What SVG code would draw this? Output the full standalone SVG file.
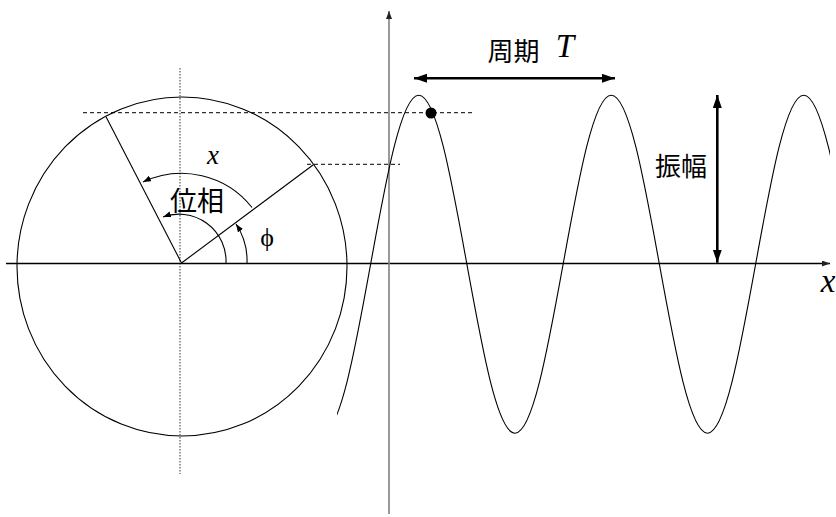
<svg xmlns="http://www.w3.org/2000/svg" width="836" height="517" viewBox="0 0 836 517">
  <style>
    .ln { fill: none; stroke: #000; stroke-width: 1.3; }
    .thin { fill: none; stroke: #000; stroke-width: 1.1; }
    .dash { fill: none; stroke: #000; stroke-width: 1; stroke-dasharray: 4 3; }
    .dot { fill: none; stroke: #555; stroke-width: 1.2; stroke-dasharray: 1.5 1.5; }
    .thick { fill: none; stroke: #000; stroke-width: 2.6; }
    .jp { font-family: "Noto Sans CJK JP", "Noto Sans", sans-serif; fill: #000; }
    .it { font-family: "Liberation Serif", "DejaVu Serif", serif; font-style: italic; fill: #000; }
    .gr { font-family: "Liberation Serif", "DejaVu Serif", serif; fill: #000; }
  </style>
  <defs>
    <marker id="arrS" markerUnits="userSpaceOnUse" markerWidth="9" markerHeight="7" refX="8" refY="3" orient="auto">
      <path d="M0,0 L8,3 L0,6 z" fill="#000"/>
    </marker>
    <marker id="arrAx" markerUnits="userSpaceOnUse" markerWidth="9" markerHeight="7" refX="8" refY="3" orient="auto">
      <path d="M0,0 L8,3 L0,6 z" fill="#222"/>
    </marker>
    <marker id="arrL" markerUnits="userSpaceOnUse" markerWidth="14" markerHeight="10" refX="13" refY="4.5" orient="auto-start-reverse">
      <path d="M0,0 L13,4.5 L0,9 z" fill="#000"/>
    </marker>
    <clipPath id="waveClip">
      <rect x="337" y="0" width="493" height="517"/>
    </clipPath>
  </defs>

  <g id="circle">
    <ellipse cx="182" cy="266.5" rx="165" ry="169.5" class="thin"/>
  </g>

  <g id="guides">
    <line x1="180" y1="68" x2="180" y2="474" class="dot"/>
    <line x1="83" y1="112.7" x2="472" y2="112.7" class="dash"/>
    <line x1="307" y1="164.3" x2="400" y2="164.3" class="dash"/>
  </g>

  <g id="axes">
    <line x1="6" y1="263.5" x2="830" y2="263.5" class="ln" marker-end="url(#arrAx)"/>
    <line x1="389" y1="514" x2="389" y2="11" stroke="#808080" stroke-width="1.6" marker-end="url(#arrAx)"/>
  </g>

  <g id="wave">
    <path clip-path="url(#waveClip)" class="thin" d="M 322.5 433.2 C 339.915 433.2 354.925 350.78 370.625 264.2 C 386.325 177.62 401.335 95.2 418.75 95.2 C 436.165 95.2 451.175 177.62 466.875 264.2 C 482.575 350.78 497.585 433.2 515 433.2 C 532.415 433.2 547.425 350.78 563.125 264.2 C 578.825 177.62 593.835 95.2 611.25 95.2 C 628.665 95.2 643.675 177.62 659.375 264.2 C 675.075 350.78 690.085 433.2 707.5 433.2 C 724.915 433.2 739.925 350.78 755.625 264.2 C 771.325 177.62 786.335 95.2 803.75 95.2 C 821.165 95.2 836.175 177.62 851.875 264.2"/>
    <circle cx="431" cy="113" r="5.5" fill="#000"/>
  </g>

  <g id="connectors">
    <line x1="181.5" y1="263" x2="106" y2="116.7" class="thin"/>
    <line x1="181.5" y1="263" x2="313" y2="165" class="thin"/>
    <path d="M 252 207.5 A 90 90 0 0 0 143 182" class="thin" marker-end="url(#arrS)"/>
    <path d="M 226 263 A 47 47 0 0 0 163 217" class="thin" marker-end="url(#arrS)"/>
    <path d="M 247 263 A 66 66 0 0 0 236 224" class="thin" marker-end="url(#arrS)"/>
    <line x1="414" y1="78.3" x2="615" y2="78.3" class="thick" marker-start="url(#arrL)" marker-end="url(#arrL)"/>
    <line x1="717.3" y1="95" x2="717.3" y2="262.7" class="thick" marker-start="url(#arrL)" marker-end="url(#arrL)"/>
  </g>

  <g id="labels">
    <text x="213" y="164" class="it" font-size="27" text-anchor="middle">x</text>
    <text x="197" y="211" class="jp" font-size="27" text-anchor="middle">位相</text>
    <text x="267" y="246" class="gr" font-size="26" text-anchor="middle">ϕ</text>
    <text x="513.5" y="61" class="jp" font-size="26" text-anchor="middle">周期</text>
    <text x="565" y="57" class="it" font-size="33" text-anchor="middle">T</text>
    <text x="681" y="176" class="jp" font-size="26" text-anchor="middle">振幅</text>
    <text x="828" y="292" class="it" font-size="33" text-anchor="middle">x</text>
  </g>
</svg>
